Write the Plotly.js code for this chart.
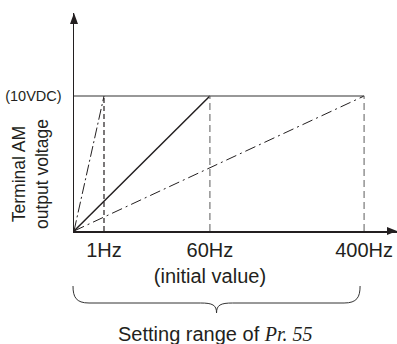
<!DOCTYPE html>
<html><head><meta charset="utf-8">
<script src="https://cdn.plot.ly/plotly-3.0.1.min.js"></script>
<style>html,body{margin:0;padding:0;background:#fff;}#chart{width:397px;height:344px;}</style>
</head><body><div id="chart"></div>
<script>
// Schematic (not to scale) horizontal positions of the frequency marks
const freqLabels = ['1Hz', '60Hz<br>(initial value)', '400Hz'];
const freqPos = [1, 4.53, 9.67];
// Output voltage (V): full scale 10VDC
const fullScale = 10;
const yTickVals = [10];
const yTickText = ['(10VDC)'];
// Each curve reaches full scale at its setting frequency
const curve1Hz = { x: [0, freqPos[0]], y: [0, fullScale] };
const curve60Hz = { x: [0, freqPos[1]], y: [0, fullScale] };
const curve400Hz = { x: [0, freqPos[2]], y: [0, fullScale] };

const ink = '#231f20';
const traces = [
  { x: [0, freqPos[2]], y: [fullScale, fullScale], mode: 'lines', line: { color: '#333', width: 1.2 } },
  { x: curve60Hz.x, y: curve60Hz.y, mode: 'lines', line: { color: ink, width: 1.5 } },
  { x: curve1Hz.x, y: curve1Hz.y, mode: 'lines', line: { color: ink, width: 1, dash: '11px,3px,2px,3px' } },
  { x: curve400Hz.x, y: curve400Hz.y, mode: 'lines', line: { color: ink, width: 1, dash: '11px,4px,2px,4px' } },
  { x: [freqPos[0], freqPos[0]], y: [0, fullScale], mode: 'lines', line: { color: ink, width: 1.2, dash: '5px,3px' } },
  { x: [freqPos[1], freqPos[1]], y: [0, fullScale], mode: 'lines', line: { color: '#777', width: 1.2, dash: '7px,4px' } },
  { x: [freqPos[2], freqPos[2]], y: [0, fullScale], mode: 'lines', line: { color: '#777', width: 1.2, dash: '7px,4px' } }
];

const xMax = 10.767, plotW = 323;
// brace under the setting range (pixel path anchored at the origin)
const toPx = v => v / xMax * plotW;
const bx0 = -1, bx1 = toPx(freqPos[2]) - 4, bxc = (bx0 + bx1) / 2, r = 16;
const bracePath = `M${bx0},-55 C${bx0},-66 ${bx0+3},-72 ${bx0+r},-72 L${bxc-r},-72 C${bxc-4},-72 ${bxc},-74 ${bxc},-82 C${bxc},-74 ${bxc+4},-72 ${bxc+r},-72 L${bx1-r},-72 C${bx1-3},-72 ${bx1},-66 ${bx1},-55`;

const layout = {
  width: 397, height: 344,
  margin: { l: 74, r: 0, t: 13, b: 113 },
  paper_bgcolor: '#fff', plot_bgcolor: '#fff',
  showlegend: false,
  font: { family: '"Liberation Sans", Arial, sans-serif', color: ink },
  xaxis: {
    range: [0, xMax], showgrid: false, zeroline: false,
    showline: true, linecolor: ink, linewidth: 1.5,
    tickvals: freqPos, ticktext: freqLabels, ticks: '',
    tickfont: { size: 20, color: ink }, fixedrange: true
  },
  yaxis: {
    range: [0, 16.15], showgrid: false, zeroline: false,
    showline: true, linecolor: ink, linewidth: 1.5,
    tickvals: yTickVals, ticktext: yTickText, ticks: '',
    ticklabelstandoff: 8,
    tickfont: { size: 14.5, color: ink }, fixedrange: true
  },
  shapes: [
    { type: 'path', xref: 'paper', yref: 'paper', xsizemode: 'pixel', ysizemode: 'pixel', xanchor: 1, yanchor: 0,
      path: 'M0,0 L-10,4 L-10,-4 Z', fillcolor: ink, line: { width: 0 } },
    { type: 'path', xref: 'paper', yref: 'paper', xsizemode: 'pixel', ysizemode: 'pixel', xanchor: 0, yanchor: 1,
      path: 'M0,0 L-4,-11 L4,-11 Z', fillcolor: ink, line: { width: 0 } },
    { type: 'path', xref: 'paper', yref: 'paper', xsizemode: 'pixel', ysizemode: 'pixel', xanchor: 0, yanchor: 0,
      path: bracePath, line: { color: '#333', width: 1 } }
  ],
  annotations: [
    { text: 'Terminal AM<br>output voltage', textangle: -90, xref: 'paper', yref: 'paper',
      x: -0.133, y: 0.2615, xanchor: 'center', yanchor: 'middle', showarrow: false,
      font: { size: 17.5, color: ink } },
    { text: 'Setting range of <span style="font-family:\'Liberation Serif\',serif;font-style:italic">Pr. 55</span>',
      xref: 'paper', yref: 'paper', x: (bxc - 1) / plotW, y: 0, yshift: -103, xanchor: 'center', yanchor: 'middle',
      showarrow: false, font: { size: 20, color: ink } }
  ]
};

Plotly.newPlot('chart', traces, layout, { displayModeBar: false, staticPlot: true });
</script>
</body></html>
